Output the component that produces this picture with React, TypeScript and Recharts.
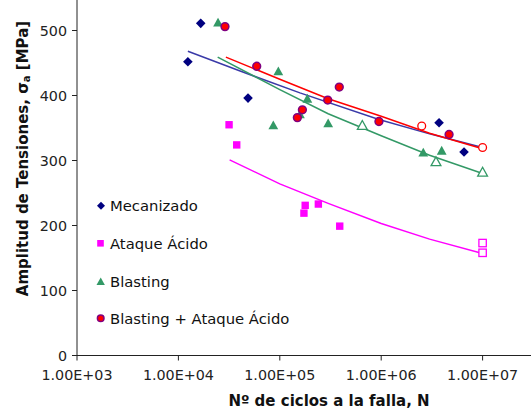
import React from 'react';
import { ComposedChart, Scatter, XAxis, YAxis, Label } from 'recharts';

// ---- Data ----
const xTicks = [1e3, 1e4, 1e5, 1e6, 1e7];
const xTickLabels = ['1.00E+03', '1.00E+04', '1.00E+05', '1.00E+06', '1.00E+07'];
const yTicks = [0, 100, 200, 300, 400, 500];

const mecanizadoN = [1.24e4, 1.66e4, 4.86e4, 3.72e6, 6.56e6];
const mecanizadoS = [452, 511, 396, 358, 313];

const ataqueN = [3.16e4, 3.76e4, 1.78e5, 1.73e5, 2.4e5, 3.9e5];
const ataqueS = [355, 324, 231, 219, 233, 199];
const ataqueRunoutN = [1e7, 1e7];
const ataqueRunoutS = [173, 158];

const blastingN = [2.46e4, 9.67e4, 8.63e4, 1.87e5, 1.58e5, 3.0e5, 2.6e6, 3.95e6];
const blastingS = [512, 437, 354, 395, 371, 357, 312, 315];
const blastingRunoutN = [6.51e5, 3.47e6, 1e7];
const blastingRunoutS = [354, 298, 282];

const blastAtaqueN = [2.88e4, 5.92e4, 3.86e5, 2.97e5, 1.67e5, 1.49e5, 9.5e5, 4.67e6];
const blastAtaqueS = [506, 445, 413, 393, 378, 366, 360, 340];
const blastAtaqueRunoutN = [2.51e6, 1e7];
const blastAtaqueRunoutS = [353, 320];

// trend lines
const trendMecN = [1.24e4, 4e4, 1.58e5, 9.5e5, 3e6, 1e7];
const trendMecS = [468, 438, 404, 363, 341, 320];
const trendAtaqueN = [3.2e4, 1e5, 3e5, 1e6, 3e6, 1e7];
const trendAtaqueS = [301, 264, 234, 203, 179, 157];
const trendBlastN = [2.44e4, 1e5, 3e5, 1e6, 3e6, 1e7];
const trendBlastS = [459, 409, 372, 338, 308, 280];
const trendBlastAtaqueN = [2.94e4, 1e5, 3e5, 1e6, 3e6, 1e7];
const trendBlastAtaqueS = [459, 425, 395, 368, 342, 318];

const legendNames = ['Mecanizado', 'Ataque Ácido', 'Blasting', 'Blasting + Ataque Ácido'];

const zip = (xs: number[], ys: number[]) => xs.map((x, i) => ({ x, y: ys[i] }));

// ---- Styles ----
const NAVY = '#000080';
const BLUE_LINE = '#3a3aa8';
const MAGENTA = '#FF00FF';
const GREEN = '#339966';
const RED = '#FF0000';
const PURPLE = '#800080';
const FONT = '"DejaVu Sans", Verdana, sans-serif';

const Diamond = ({ cx, cy, s = 4.8, fill = NAVY }: any) => (
  <path d={`M${cx},${cy - s}L${cx + s},${cy}L${cx},${cy + s}L${cx - s},${cy}Z`} fill={fill} />
);
const Square = ({ cx, cy, s = 3.7, hollow = false }: any) => (
  <rect
    x={cx - s}
    y={cy - s}
    width={2 * s}
    height={2 * s}
    fill={hollow ? '#fff' : MAGENTA}
    stroke={MAGENTA}
    strokeWidth={hollow ? 1.3 : 0}
  />
);
const Triangle = ({ cx, cy, s = 4.9, hollow = false }: any) => (
  <path
    d={`M${cx},${cy - s}L${cx + s},${cy + s * 0.8}L${cx - s},${cy + s * 0.8}Z`}
    fill={hollow ? '#fff' : GREEN}
    stroke={GREEN}
    strokeWidth={hollow ? 1.3 : 0}
  />
);
const Circle = ({ cx, cy, r = 3.9, hollow = false }: any) =>
  hollow ? (
    <circle cx={cx} cy={cy} r={r} fill="#fff" stroke={RED} strokeWidth={1.3} />
  ) : (
    <circle cx={cx} cy={cy} r={r} fill={RED} stroke={PURPLE} strokeWidth={1.5} />
  );

const noShape = () => <g />;

const XTick = ({ x, payload }: any) => {
  const i = xTicks.indexOf(payload.value);
  return (
    <text x={x} y={391.5} textAnchor="middle" fontFamily={FONT} fontSize={14.3} fill="#222">
      {xTickLabels[i]}
    </text>
  );
};

const YTick = ({ y, payload }: any) => (
  <text x={67} y={y + 5.2} textAnchor="end" fontFamily={FONT} fontSize={14.3} fill="#222">
    {payload.value}
  </text>
);

const LegendOverlay = () => {
  const rows = [205.7, 243.3, 281.7, 318.3].map((v) => v - 190);
  return (
    <svg width={260} height={150} style={{ position: 'absolute', left: 88, top: 190, overflow: 'visible' }}>
      <Diamond cx={13} cy={rows[0]} s={4} />
      <Square cx={12.5} cy={rows[1]} s={3.3} />
      <Triangle cx={12.7} cy={rows[2]} s={4.2} />
      <Circle cx={12.7} cy={rows[3]} r={3.3} />
      {legendNames.map((n, i) => (
        <text key={n} x={22} y={rows[i] + 5.2} fontFamily={FONT} fontSize={14.8} fill="#111">
          {n}
        </text>
      ))}
    </svg>
  );
};

const YLabel = () => (
  <text
    transform="translate(27.5,170.5) rotate(-90)"
    textAnchor="middle"
    fontFamily={FONT}
    fontSize={15}
    fontWeight="bold"
    fill="#111"
  >
    Amplitud de Tensiones, σ
    <tspan fontSize={10} dy={2}>a</tspan>
    <tspan dy={-2}> [MPa]</tspan>
  </text>
);

const XLabel = () => (
  <text x={329} y={418} textAnchor="middle" fontFamily={FONT} fontSize={15} fontWeight="bold" fill="#111">
    Nº de ciclos a la falla, N
  </text>
);

export default function App() {
  return (
    <div style={{ position: 'absolute', left: 0, top: 0, width: 531, height: 412, overflow: 'hidden', background: '#fff' }}>
      <div style={{ position: 'absolute', left: 0, top: -12.5 }}>
        <ComposedChart width={600} height={430} margin={{ top: 10, right: 16, bottom: 0, left: 0 }}>
          <XAxis
            type="number"
            dataKey="x"
            scale="log"
            domain={[1e3, 1e8]}
            ticks={xTicks}
            allowDataOverflow
            height={62.5}
            tick={<XTick />}
            tickSize={5}
            axisLine={{ stroke: '#222' }}
            tickLine={{ stroke: '#222' }}
            interval={0}
          >
            <Label content={<XLabel />} />
          </XAxis>
          <YAxis
            type="number"
            dataKey="y"
            domain={[0, 550]}
            ticks={yTicks}
            allowDataOverflow
            width={77}
            tick={<YTick />}
            tickSize={5}
            tickMargin={5}
            axisLine={{ stroke: '#222' }}
            tickLine={{ stroke: '#222' }}
            interval={0}
          >
            <Label content={<YLabel />} />
          </YAxis>

          <Scatter data={zip(trendMecN, trendMecS)} line={{ stroke: BLUE_LINE, strokeWidth: 1.5 }} shape={noShape} isAnimationActive={false} legendType="none" />
          <Scatter data={zip(trendAtaqueN, trendAtaqueS)} line={{ stroke: MAGENTA, strokeWidth: 1.5 }} shape={noShape} isAnimationActive={false} legendType="none" />
          <Scatter data={zip(trendBlastN, trendBlastS)} line={{ stroke: GREEN, strokeWidth: 1.5 }} shape={noShape} isAnimationActive={false} legendType="none" />
          <Scatter data={zip(trendBlastAtaqueN, trendBlastAtaqueS)} line={{ stroke: RED, strokeWidth: 1.5 }} shape={noShape} isAnimationActive={false} legendType="none" />

          <Scatter name="Mecanizado" data={zip(mecanizadoN, mecanizadoS)} shape={(p: any) => <Diamond cx={p.cx} cy={p.cy} />} isAnimationActive={false} />
          <Scatter name="Ataque Ácido" data={zip(ataqueN, ataqueS)} shape={(p: any) => <Square cx={p.cx} cy={p.cy} />} isAnimationActive={false} />
          <Scatter data={zip(ataqueRunoutN, ataqueRunoutS)} shape={(p: any) => <Square cx={p.cx} cy={p.cy} hollow />} isAnimationActive={false} legendType="none" />
          <Scatter name="Blasting" data={zip(blastingN, blastingS)} shape={(p: any) => <Triangle cx={p.cx} cy={p.cy} />} isAnimationActive={false} />
          <Scatter data={zip(blastingRunoutN, blastingRunoutS)} shape={(p: any) => <Triangle cx={p.cx} cy={p.cy} hollow />} isAnimationActive={false} legendType="none" />
          <Scatter name="Blasting + Ataque Ácido" data={zip(blastAtaqueN, blastAtaqueS)} shape={(p: any) => <Circle cx={p.cx} cy={p.cy} />} isAnimationActive={false} />
          <Scatter data={zip(blastAtaqueRunoutN, blastAtaqueRunoutS)} shape={(p: any) => <Circle cx={p.cx} cy={p.cy} hollow />} isAnimationActive={false} legendType="none" />
        </ComposedChart>
      </div>
      <LegendOverlay />
    </div>
  );
}
